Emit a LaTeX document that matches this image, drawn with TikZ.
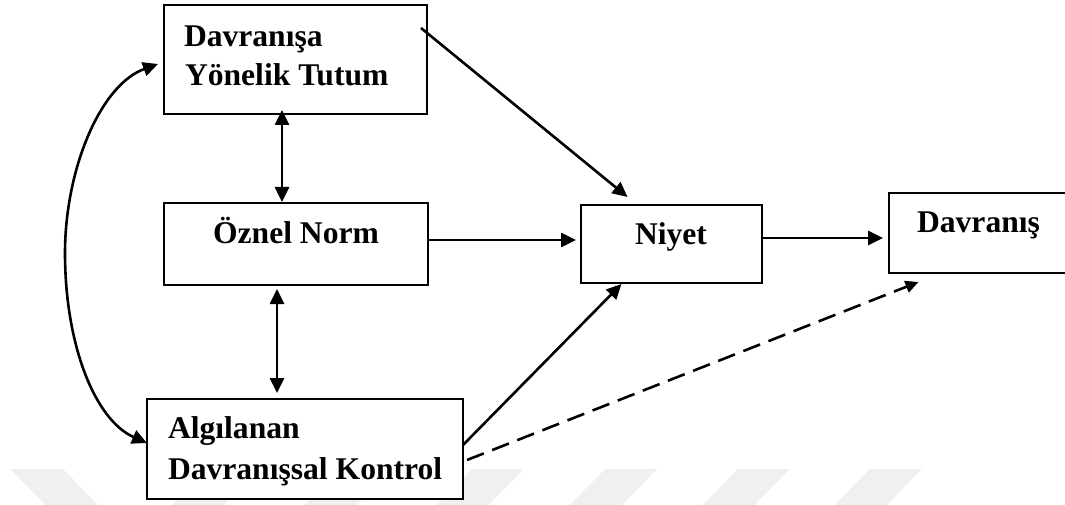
\documentclass[tikz,border=0pt]{standalone}
\usepackage{fontspec}
\setmainfont{Liberation Serif}
\usetikzlibrary{arrows.meta}
\begin{document}
\begin{tikzpicture}[x=1pt,y=-1pt,
  box/.style={draw=black,fill=white,line width=2pt,rectangle,outer sep=0pt,inner sep=0pt},
  lbl/.style={font=\fontsize{31.6}{38}\selectfont\bfseries,inner sep=0pt,outer sep=0pt},
  arr/.style={line width=2.6pt,-{Triangle[length=15pt,width=14pt]}},
  dbl/.style={line width=2.6pt,{Triangle[length=15pt,width=14pt]}-{Triangle[length=15pt,width=14pt]}},
  darr/.style={line width=2.6pt,-{Triangle[length=13pt,width=12pt]}},
  wm/.style={fill=black!6,draw=none}]
\path[use as bounding box] (0,0) rectangle (1065,505);
\clip (0,0) rectangle (1065,505);
% watermark
\fill[wm] (10,469) -- (63,469) -- (108,515) -- (55,515) -- cycle;
\foreach \a in {207,340,472,605,738,870}{
  \fill[wm] (\a,469) -- (\a+52,469) -- (\a+7,515) -- (\a-45,515) -- cycle;
}
% boxes
\node[box,minimum width=263pt,minimum height=109pt] (t) at (295.5,59.5) {};
\node[box,minimum width=264pt,minimum height=82pt] (o) at (296,244) {};
\node[box,minimum width=316pt,minimum height=100pt] (a) at (305,449) {};
\node[box,minimum width=181pt,minimum height=78pt] (n) at (671.5,244) {};
\node[box,minimum width=191pt,minimum height=80pt] (d) at (984.5,233) {};
% labels
\node[lbl,anchor=base west] (t1) at (184,47) {Davranışa};
\node[lbl,anchor=base west] (t2) at (185,86) {Yönelik Tutum};
\node[lbl,anchor=base] (o1) at (296,243) {Öznel Norm};
\node[lbl,anchor=base west] (a1) at (168,438) {Algılanan};
\node[lbl,anchor=base west] (a2) at (168,479) {Davranışsal Kontrol};
\node[lbl,anchor=base] (n1) at (671,244) {Niyet};
\node[lbl,anchor=base] (d1) at (978.5,233) {Davranış};
% connectors
\draw[arr] ([shift={(-6,23)}]t.north east) -- ([shift={(-44,-8)}]n.north);
\draw[arr] ([shift={(0,-4)}]o.east) -- ([shift={(-5,-4)}]n.west);
\draw[arr] ([shift={(0,-6)}]n.east) -- ([shift={(-6,5)}]d.west);
\draw[arr] ([shift={(0,-4)}]a.east) -- ([shift={(-50,1)}]n.south);
\draw[darr,dash pattern=on 18pt off 9pt] ([shift={(4,11)}]a.east) -- ([shift={(-66,9)}]d.south);
\draw[dbl] ([shift={(-13.5,-4)}]t.south) -- ([shift={(-14,-1)}]o.north);
\draw[dbl] ([shift={(-19,4)}]o.south) -- ([shift={(-28,-6)}]a.north);
\draw[dbl] ([shift={(-6,4.5)}]t.west) .. controls (100,85) and (65,170) .. (65,253) .. controls (65,345) and (95,420) .. ([shift={(0,-6)}]a.west);
\end{tikzpicture}
\end{document}
